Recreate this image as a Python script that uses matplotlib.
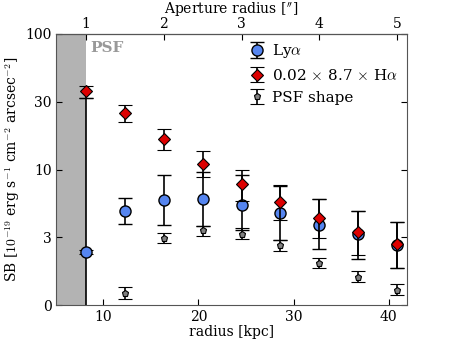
import numpy as np
import matplotlib
matplotlib.use("Agg")
import matplotlib.pyplot as plt
from matplotlib.scale import FuncScale

plt.rcParams['font.family'] = ['DejaVu Serif']
plt.rcParams['mathtext.fontset'] = 'cm'
plt.rcParams['xtick.direction'] = 'in'
plt.rcParams['ytick.direction'] = 'in'

# ---- data ----
KPC_PER_ARCSEC = 8.18
aperture = [1.0, 1.5, 2.0, 2.5, 3.0, 3.5, 4.0, 4.5, 5.0]

lya = [2.35, 4.78, 5.81, 5.88, 5.32, 4.62, 3.73, 3.16, 2.66]
lya_lo = [-2.0, 3.80, 3.75, 3.66, 3.41, 2.88, 2.47, 2.04, 1.65]
lya_hi = [31.9, 6.06, 9.02, 9.51, 9.07, 7.45, 5.92, 4.78, 3.96]

ha = [36.3, 24.9, 16.3, 10.9, 7.68, 5.58, 4.20, 3.27, 2.70]
ha_lo = [31.9, 21.7, 13.7, 8.70, 5.75, 4.08, 2.95, 2.23, 1.65]
ha_hi = [39.9, 28.3, 19.3, 13.5, 9.96, 7.59, 5.92, 4.78, 3.96]

psf = [2.35, 0.52, 2.97, 3.39, 3.16, 2.64, 1.87, 1.24, 0.68]
psf_lo = [2.25, 0.25, 2.73, 3.05, 2.91, 2.39, 1.64, 1.03, 0.44]
psf_hi = [2.45, 0.80, 3.25, 3.66, 3.52, 2.88, 2.09, 1.51, 0.93]

yticks = [0, 3, 10, 30, 100]
ytick_labels = ['0', '3', '10', '30', '100']
xticks = [10, 20, 30, 40]
top_ticks = [1, 2, 3, 4, 5]

# ---- custom y scale: tick values evenly spaced ----
_knots_v = np.log10([3.0, 10.0, 30.0, 100.0, 1000.0])
_knots_t = np.array([1.0, 2.0, 3.0, 4.0, 5.0])

def fwd(v):
    v = np.asarray(v, dtype=float)
    lin = v / 3.0
    lv = np.log10(np.where(v > 3, v, 3.0))
    hi = np.interp(lv, _knots_v, _knots_t)
    return np.where(v > 3, hi, lin)

def inv(t):
    t = np.asarray(t, dtype=float)
    lin = 3.0 * t
    hi = 10 ** np.interp(np.where(t > 1, t, 1.0), _knots_t, _knots_v)
    return np.where(t > 1, hi, lin)

x = np.array(aperture) * KPC_PER_ARCSEC

def err(c, lo, hi):
    c = np.array(c); return [c - np.array(lo), np.array(hi) - c]

fig = plt.figure(figsize=(4.52, 3.39), dpi=100)
ax = fig.add_axes([0.125, 0.1, 0.775, 0.8])
ax.set_yscale(FuncScale(ax.yaxis, (fwd, inv)))

ax.axvspan(5.1, KPC_PER_ARCSEC * 1.0, color='#b3b3b3', lw=0, zorder=0)
ax.text(8.6, 78, 'PSF', color='#999999', fontweight='bold', fontsize=11,
        va='center', ha='left')

ekw = dict(ecolor='black', elinewidth=1.2, capsize=5, capthick=1.5, ls='none')
h_psf = ax.errorbar(x, psf, yerr=err(psf, psf_lo, psf_hi), fmt='p', ms=5,
                    mfc='#808080', mec='black', mew=0.8, zorder=2, **ekw)
h_lya = ax.errorbar(x, lya, yerr=err(lya, lya_lo, lya_hi), fmt='o', ms=8,
                    mfc='#5585f0', mec='black', mew=1.0, zorder=3, **ekw)
h_ha = ax.errorbar(x, ha, yerr=err(ha, ha_lo, ha_hi), fmt='D', ms=6.5,
                   mfc='#dd0000', mec='black', mew=0.8, zorder=4, **ekw)

ax.set_xlim(5.1, 41.9)
ax.set_ylim(0, 100)
ax.set_yticks(yticks)
ax.set_yticklabels(ytick_labels)
ax.yaxis.set_minor_locator(matplotlib.ticker.NullLocator())
ax.set_xticks(xticks)
ax.tick_params(axis='both', labelsize=10, length=4, right=True)
ax.tick_params(axis='x', top=False)
ax.set_xlabel('radius [kpc]', fontsize=10, labelpad=1)
ax.set_ylabel(r'SB [$10^{-19}$ erg s$^{-1}$ cm$^{-2}$ arcsec$^{-2}$]', fontsize=10, labelpad=2)

sec = ax.secondary_xaxis('top', functions=(lambda k: k / KPC_PER_ARCSEC,
                                           lambda a: a * KPC_PER_ARCSEC))
sec.set_xticks(top_ticks)
sec.tick_params(direction='in', labelsize=10, length=4, pad=2)
sec.set_xlabel(r'Aperture radius [$^{\prime\prime}$]', fontsize=10, labelpad=3)

for s in ax.spines.values():
    s.set_color('#555555')

ax.legend([h_lya, h_ha, h_psf],
          [r'Ly$\alpha$', r'0.02 $\times$ 8.7 $\times$ H$\alpha$', 'PSF shape'],
          loc='upper right', frameon=False, fontsize=11, handlelength=1.0,
          handletextpad=0.5, borderaxespad=0.15, labelspacing=0.5)

fig.savefig('out.png', dpi=100)
